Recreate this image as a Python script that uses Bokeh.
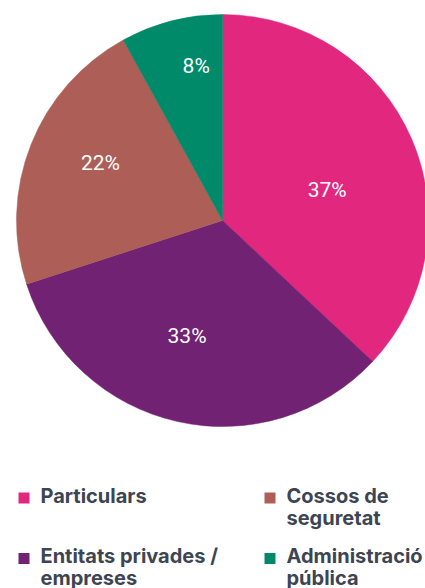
import math
from bokeh.plotting import figure
from bokeh.models import Range1d
from bokeh.core.properties import value
from bokeh.embed import file_html
from bokeh.resources import INLINE

# Data
categories = ["Particulars", "Entitats privades /\nempreses", "Cossos de\nseguretat", "Administració\npública"]
shares = [37, 33, 22, 8]
colors = ["#E2277F", "#722272", "#AD5E56", "#008A6A"]
pct_labels = ["37%", "33%", "22%", "8%"]

W, H = 425, 588
p = figure(width=W, height=H, output_backend="svg", toolbar_location=None,
           x_range=Range1d(0, W), y_range=Range1d(0, H), min_border=0)
p.axis.visible = False
p.grid.visible = False
p.outline_line_color = None
p.background_fill_color = "white"
p.border_fill_color = "white"

# picture pixel -> data coords
def py(ypix):
    return H - ypix

cx, cy, r = 222, py(220), 206
label_shift = math.radians(5)
total = sum(shares)
starts, ends, lx, ly = [], [], [], []
cum = 0.0
for s in shares:
    f0 = cum / total
    f1 = (cum + s) / total
    starts.append(math.pi / 2 - f0 * 2 * math.pi)
    ends.append(math.pi / 2 - f1 * 2 * math.pi)
    mid = math.pi / 2 - (f0 + f1) / 2 * 2 * math.pi - label_shift
    frac = 0.85 - 0.85 * (s / total)
    lx.append(cx + r * frac * math.cos(mid))
    ly.append(cy + r * frac * math.sin(mid) - 4)
    cum += s

p.wedge(x=cx, y=cy, radius=r, start_angle=starts, end_angle=ends,
        direction="clock", fill_color=colors, line_color=colors, line_width=0.5)

p.text(x=lx, y=ly, text=pct_labels, text_color="white", text_font=value("Roboto"),
       text_font_size="21px", text_align="center", text_baseline="middle")

# Legend (2 columns x 2 rows)
col_x = [23.5, 269.5]
row_y = [497.5, 558]
order = [(0, 0, 0), (2, 1, 0), (1, 0, 1), (3, 1, 1)]
sq_x, sq_y, tx, ty, tt = [], [], [], [], []
for idx, c, rrow in order:
    sq_x.append(col_x[c])
    sq_y.append(py(row_y[rrow]))
    for k, line in enumerate(categories[idx].split("\n")):
        tx.append(col_x[c] + 16.5)
        ty.append(py(row_y[rrow] - 2.5 + 22 * k))
        tt.append(line)
sq_colors = [colors[i] for i, _, _ in order]
p.rect(x=sq_x, y=sq_y, width=11, height=11, fill_color=sq_colors, line_color=None)
p.text(x=tx, y=ty, text=tt, text_color="#3D4552", text_font=value("Inter"),
       text_font_size="20px", text_font_style="bold", text_align="left",
       text_baseline="middle")

open("out.html", "w").write(file_html(p, INLINE))
